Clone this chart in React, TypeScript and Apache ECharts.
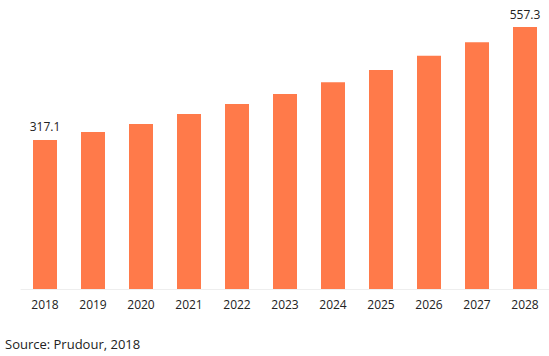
import React, { useEffect, useRef } from "react";
import * as echarts from "echarts";

const years = ["2018", "2019", "2020", "2021", "2022", "2023", "2024", "2025", "2026", "2027", "2028"];
const values = [317.1, 334, 351, 372, 393.5, 415, 440, 466, 496, 525, 557.3];
const labeledIndices = [0, 10];
const sourceText = "Source: Prudour, 2018";

export default function App() {
  const ref = useRef<HTMLDivElement>(null);
  useEffect(() => {
    if (!ref.current) return;
    const chart = echarts.init(ref.current, null, { renderer: "svg" });
    const data = values.map((v, i) => ({
      value: v,
      label: {
        show: labeledIndices.includes(i),
        position: "top",
        distance: 7,
        color: "#222",
        fontSize: 12,
        fontFamily: "Open Sans",
      },
    }));
    chart.setOption({
      animation: false,
      grid: { left: 21, top: 27, width: 532, bottom: 67, containLabel: false },
      xAxis: {
        type: "category",
        data: years,
        axisLine: { lineStyle: { color: "#eeeeee" } },
        axisTick: { show: false },
        axisLabel: { color: "#222", fontSize: 12, fontFamily: "Open Sans", margin: 9 },
      },
      yAxis: {
        type: "value",
        min: 0,
        max: 557.3,
        show: false,
        splitLine: { show: false },
      },
      series: [
        {
          type: "bar",
          data,
          barWidth: 24,
          itemStyle: { color: "#FF7A4A" },
        },
      ],
      graphic: [
        {
          type: "text",
          left: 5,
          top: 337,
          style: { text: sourceText, fill: "#222", fontSize: 13, fontFamily: "Open Sans" },
        },
      ],
    });
    return () => chart.dispose();
  }, []);
  return <div ref={ref} style={{ width: 549, height: 356, position: "absolute", left: 0, top: 0 }} />;
}
